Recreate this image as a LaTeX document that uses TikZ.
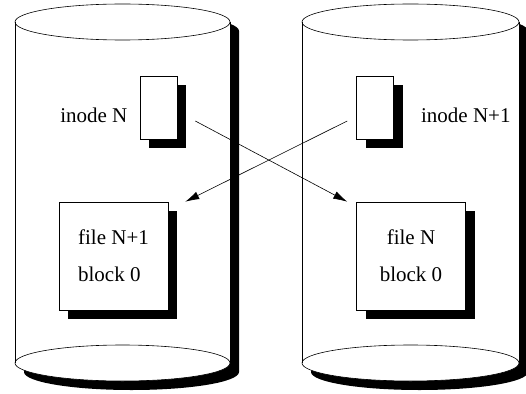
\documentclass[tikz,border=0pt]{standalone}
\usepackage{fontspec}
\setmainfont{Liberation Serif}
\usetikzlibrary{arrows.meta,shadows}

\begin{document}
\begin{tikzpicture}[x=1pt,y=1pt,>={Latex[length=14pt,width=8pt]},line width=0.6pt,font=\fontsize{21}{37}\selectfont,
        box/.style={draw=black, fill=white, inner sep=0pt, general shadow={fill=black, shadow xshift=9pt, shadow yshift=-9pt}},
        inode/.style={box, minimum width=37pt, minimum height=63pt},
        block/.style={box, minimum width=109pt, minimum height=108pt}]
        \useasboundingbox (0,0) rectangle (526,-393);
        % the two disks
        \foreach \cx/\rx in {122.5/107.5, 410.5/108.5} {
            \fill [black, shift={(9,-9)}] (\cx-\rx,-22) -- (\cx-\rx,-363) arc [start angle=180, end angle=360, x radius=\rx, y radius=18]
                -- (\cx+\rx,-22) arc [start angle=0, end angle=180, x radius=\rx, y radius=18] -- cycle;
            \fill [white] (\cx-\rx,-22) -- (\cx-\rx,-363) arc [start angle=180, end angle=360, x radius=\rx, y radius=18]
                -- (\cx+\rx,-22) arc [start angle=0, end angle=180, x radius=\rx, y radius=18] -- cycle;
            \draw (\cx-\rx,-22) -- (\cx-\rx,-363) (\cx+\rx,-22) -- (\cx+\rx,-363);
            \draw (\cx,-22) ellipse [x radius=\rx, y radius=18];
            \draw (\cx,-363) ellipse [x radius=\rx, y radius=18];
        }
        \node [inode] at (158.5,-107.5) (inN) {};
        \node [inode] at (375,-107.5) (inN1) {};
        \node [anchor=base east, inner sep=0pt] at ([xshift=-12pt,yshift=-14.5pt]inN.west) (labN) {inode N};
        \node [anchor=base west, inner sep=0pt] at ([xshift=27pt,yshift=-14.5pt]inN1.east) (labN1) {inode N+1};
        \node [block, align=left] at (113.5,-256) (fN1) {file N+1\\block 0};
        \node [block, align=center] at (411,-256) (fN) {file N\\block 0};
        %\draw [->] (inN) -- (fN);
        \draw [->] ([xshift=18pt,yshift=-13.5pt]inN.east) -- ([xshift=-9pt]fN.north west);
        \draw [->] ([xshift=-9pt,yshift=-13.5pt]inN1.west) -- ([xshift=17pt]fN1.north east);
\end{tikzpicture}
\end{document}
